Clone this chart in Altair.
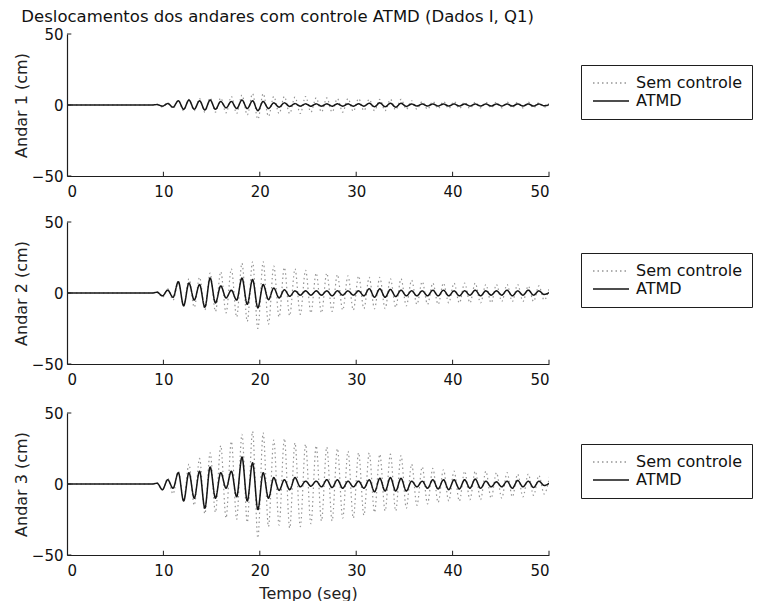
import altair as alt
import pandas as pd

FONT = "DejaVu Sans"
TITLE = "Deslocamentos dos andares com controle ATMD (Dados I, Q1)"
SERIES = ["Sem controle", "ATMD"]
Y_TITLES = ["Andar 1 (cm)", "Andar 2 (cm)", "Andar 3 (cm)"]
X_TITLE = "Tempo (seg)"
X_TICKS = [0, 10, 20, 30, 40, 50]
Y_TICKS = [-50, 0, 50]

# sampling instants (s): one extreme every half period (~0.55 s)
TIME = [round(i * 0.55, 2) for i in range(92)]

# extremes (cm), from t ~ 9.35 s on; earlier samples are at rest (0)
SEM_1 = [0.5, -1.5, 1.5, -2.5, 3, -4, 4, -4, 4.5, -5,
         5, -5, 5, -5.5, 6, -6, 7, -7, 8, -10,
         8, -8, 6, -6, 6, -6, 5.5, -6, 6, -5,
         5, -5, 5, -5, 4.5, -5, 4.5, -4.5, 4.5, -4,
         4, -4, 4, -4, 4, -3.5, 4, -3, 3, -3,
         2.5, -3, 2.5, -2.5, 2.5, -2.5, 2.5, -2.5, 2, -2.5,
         2, -2, 2, -2, 2, -2, 2, -2, 2, -2,
         2, -2, 1.5, -1.5, 1.5]
ATMD_1 = [0.3, -0.8, 1, -1.5, 3, -3, 3.5, -3, 3, -3.5,
          3.5, -3, 2.5, -2, 2.5, -2.5, 3.5, -2.5, 3, -4,
          2.5, -2.5, 1.5, -1.5, 1.5, -1, 1, -0.8, 0.8, -0.8,
          0.8, -0.8, 0.8, -0.8, 0.8, -0.8, 0.8, -0.8, 0.8, -0.8,
          1.2, -1.2, 1.5, -1.2, 1.2, -1.5, 1.2, -1, 0.7, -0.7,
          0.7, -0.7, 0.7, -0.7, 0.7, -0.7, 0.7, -0.7, 0.7, -0.7,
          0.7, -0.7, 0.7, -0.7, 0.7, -0.7, 0.7, -0.7, 0.7, -0.7,
          0.7, -0.7, 0.7, -0.5, 0.3]
SEM_2 = [1, -3, 3, -5, 7, -9, 10, -10, 11, -12,
         14, -13, 15, -14, 17, -17, 21, -20, 22, -25,
         22, -22, 19, -17, 18, -16, 17, -15, 16, -14,
         14, -14, 14, -13, 13, -12, 12, -12, 12, -11,
         11, -11, 11, -11, 10, -10, 10, -9, 9, -8,
         8, -8, 7, -8, 7, -7, 7, -7, 7, -7,
         7, -7, 6, -7, 6, -6, 6, -6, 6, -6,
         5, -6, 5, -5, 4]
ATMD_2 = [0.5, -2, 2, -3, 8, -9, 7, -5, 6, -10,
          10.5, -7, 5, -3.5, 2, -5, 10.5, -8, 9.5, -10.5,
          6, -4.7, 3.5, -3.5, 2.3, -2.3, 1.5, -1.5, 1.5, -1.5,
          1.5, -1.5, 1.5, -2, 1.5, -1.5, 1.5, -1.5, 1.5, -2,
          3, -3, 3, -3, 2.5, -2.5, 2, -2, 1.5, -2,
          1.5, -2, 2, -2, 2, -2, 1.5, -2, 1.5, -1.5,
          2, -2, 1.5, -1.5, 1.5, -1.5, 2, -2, 1.5, -1.5,
          2, -1.5, 1.5, -1, 0.5]
SEM_3 = [1, -4, 4, -7, 9, -11, 14, -15, 18, -21,
         22, -20, 27, -24, 30, -25, 35, -27, 37, -38,
         36, -30, 31, -29, 32, -31, 29, -30, 28, -28,
         27, -26, 26, -26, 25, -24, 23, -24, 22, -22,
         22, -20, 21, -19, 21, -19, 20, -17, 14, -15,
         12, -14, 11, -13, 10, -12, 9, -12, 9, -11,
         9, -11, 9, -10, 8, -10, 8, -9, 7, -9,
         7, -8, 6, -7, 5]
ATMD_3 = [0.5, -4, 3, -3, 8, -12, 8, -10, 9, -17,
          12, -10, 8, -3, 9, -9, 19, -12, 15, -18,
          8, -10, 4.5, -4.5, 3, -4, 4.5, -2, 2, -1.5,
          2, -2, 3, -2.5, 3, -3, 2, -2, 2, -3,
          3, -5.5, 4, -5, 4.5, -5, 4, -5, 2, -2,
          2, -3, 3, -3.5, 3, -4, 3, -3.5, 3, -3,
          3.5, -3, 2, -2, 1.5, -2, 2, -3, 2.5, -2,
          2, -2.5, 2, -1, 0.5]

N = len(TIME)


def full(vals):
    return [0.0] * (N - len(vals)) + list(vals)


W, H = 482, 142
XTICK_LEN = 3.0   # data units (cm) for inward x ticks
YTICK_LEN = 0.45  # data units (s) for inward y ticks
AX = "#1e1e1e"


def panel(k, sem, atmd, last):
    df = pd.DataFrame({
        "t": TIME * 2,
        "v": full(sem) + full(atmd),
        "s": [SERIES[0]] * N + [SERIES[1]] * N,
    })
    xs = alt.Scale(domain=[0, 50], nice=False, zero=False)
    ys = alt.Scale(domain=[-50, 50], nice=False)
    xaxis = alt.Axis(values=X_TICKS, ticks=False, grid=False, labelPadding=8,
                     title=X_TITLE if last else None, titlePadding=7)
    yaxis = alt.Axis(values=Y_TICKS, ticks=False, grid=False, labelPadding=4,
                     title=Y_TITLES[k], titlePadding=2)
    leg = alt.Legend(title=None, orient="none", legendX=514, legendY=31,
                     strokeColor=AX, fillColor="white", padding=10,
                     labelFont=FONT, labelFontSize=16, labelColor="#111",
                     labelExpr="datum.label + '\u00a0'",
                     symbolType="M-3,0H3", symbolSize=144, symbolStrokeWidth=1.3,
                     symbolOffset=12, labelOffset=17, rowPadding=2)
    color = alt.Color("s:N", scale=alt.Scale(domain=SERIES, range=["#959595", "#151515"]), legend=leg)
    dash = alt.StrokeDash("s:N", scale=alt.Scale(domain=SERIES, range=[[1.5, 3], [1, 0]]), legend=leg)
    enc = dict(x=alt.X("t:Q", scale=xs, axis=xaxis), y=alt.Y("v:Q", scale=ys, axis=yaxis),
               color=color, strokeDash=dash)
    sem_l = alt.Chart(df).transform_filter(alt.datum.s == SERIES[0]).mark_line(
        strokeWidth=1.2, clip=True, interpolate="monotone").encode(**enc)
    atm_l = alt.Chart(df).transform_filter(alt.datum.s == SERIES[1]).mark_line(
        strokeWidth=1.5, clip=True, interpolate="monotone").encode(**enc)
    xt = pd.DataFrame({"x": X_TICKS[1:]})
    yt = pd.DataFrame({"y": Y_TICKS})
    xt_l = alt.Chart(xt).mark_rule(color=AX, strokeWidth=1).encode(
        x=alt.X("x:Q", scale=xs, axis=xaxis), y=alt.datum(-50), y2=alt.datum(-50 + XTICK_LEN))
    yt_l = alt.Chart(yt).mark_rule(color=AX, strokeWidth=1).encode(
        y=alt.Y("y:Q", scale=ys, axis=yaxis), x=alt.datum(0), x2=alt.datum(YTICK_LEN))
    return alt.layer(sem_l, atm_l, xt_l, yt_l).properties(width=W, height=H)


top = alt.vconcat(
    panel(0, SEM_1, ATMD_1, False),
    panel(1, SEM_2, ATMD_2, False),
    spacing=16,
).resolve_scale(color="independent", strokeDash="independent").resolve_legend(
    color="independent", strokeDash="independent")

chart = alt.vconcat(
    top,
    panel(2, SEM_3, ATMD_3, True),
    spacing=19,
).resolve_scale(color="independent", strokeDash="independent").resolve_legend(
    color="independent", strokeDash="independent"
).properties(
    title=alt.Title(TITLE, anchor="start", frame="bounds", font=FONT, fontSize=16.5,
                    fontWeight="normal", color="#111", offset=2, dx=8),
    padding={"left": 5, "top": 0, "right": 0, "bottom": 0},
).configure_view(stroke=None).configure_axis(
    labelFont=FONT, labelFontSize=15, labelColor="#111", titleFont=FONT, titleFontSize=16,
    titleFontWeight="normal", titleColor="#222", domainColor=AX, domainWidth=1.2,
)

chart.save("out.html", embed_options={"renderer": "svg", "actions": False})
